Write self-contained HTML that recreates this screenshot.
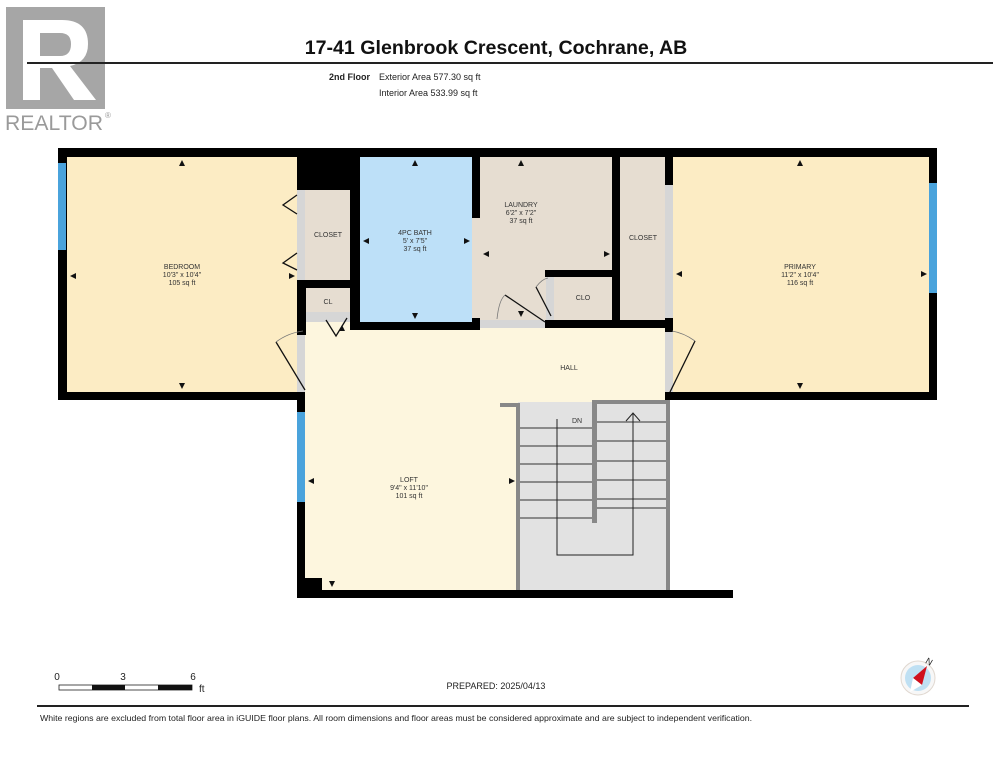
<!DOCTYPE html>
<html><head><meta charset="utf-8"><style>
html,body{margin:0;padding:0;background:#fff;width:993px;height:768px;overflow:hidden}
svg{display:block}
text{font-family:"Liberation Sans",Arial,sans-serif}
</style></head><body>
<svg width="993" height="768" viewBox="0 0 993 768" xmlns="http://www.w3.org/2000/svg">
<!-- Realtor logo -->
<rect x="6" y="7" width="99" height="102" fill="#a6a6a6"/>
<path d="M23 20 H62 Q88 20 88 44 Q88 62 70 66 L96 100 H74 L52 68 H40 V100 H23 Z M40 33 V56 H60 Q71 56 71 44 Q71 33 60 33 Z" fill="#fff"/>
<text x="5" y="130" font-size="21" fill="#9a9a9a" textLength="98" lengthAdjust="spacingAndGlyphs">REALTOR</text>
<text x="105" y="118" font-size="8" fill="#9a9a9a">®</text>
<!-- header -->
<text x="496" y="54" font-size="19.6" font-weight="bold" text-anchor="middle" fill="#111">17-41 Glenbrook Crescent, Cochrane, AB</text>
<rect x="27" y="62" width="966" height="2" fill="#222"/>
<text x="370" y="80" font-size="9" font-weight="bold" text-anchor="end" fill="#222">2nd Floor</text>
<text x="379" y="80" font-size="9" fill="#222">Exterior Area 577.30 sq ft</text>
<text x="379" y="96" font-size="9" fill="#222">Interior Area 533.99 sq ft</text>

<!-- floors -->
<rect x="65" y="155" width="235" height="240" fill="#fcecc4"/>
<rect x="303" y="188" width="50" height="130" fill="#e6ddd1"/>
<rect x="358" y="155" width="116" height="170" fill="#bde0f8"/>
<rect x="472" y="155" width="144" height="170" fill="#e6ddd1"/>
<rect x="616" y="155" width="52" height="170" fill="#e6ddd1"/>
<rect x="670" y="155" width="262" height="240" fill="#fcecc4"/>
<rect x="303" y="322" width="365" height="272" fill="#fdf6de"/>
<rect x="518" y="402" width="150" height="192" fill="#e2e2e2"/>
<!-- door strips -->
<rect x="297" y="190" width="8" height="90" fill="#d6d6d6"/>
<rect x="306" y="312" width="44" height="10" fill="#d6d6d6"/>
<rect x="297" y="335" width="8" height="57" fill="#d6d6d6"/>
<rect x="480" y="320" width="65" height="8" fill="#d6d6d6"/>
<rect x="546" y="277" width="8" height="43" fill="#d6d6d6"/>
<rect x="665" y="185" width="8" height="135" fill="#d6d6d6"/>
<rect x="665" y="330" width="8" height="62" fill="#d6d6d6"/>

<!-- walls -->
<g fill="#000">
<rect x="58" y="148" width="879" height="9"/>
<rect x="58" y="148" width="9" height="252"/>
<rect x="58" y="392" width="247" height="8"/>
<rect x="297" y="148" width="55" height="42"/>
<rect x="297" y="280" width="63" height="8"/>
<rect x="297" y="288" width="9" height="47"/>
<rect x="297" y="392" width="8" height="206"/>
<rect x="297" y="578" width="25" height="20"/>
<rect x="297" y="590" width="436" height="8"/>
<rect x="350" y="148" width="10" height="182"/>
<rect x="350" y="322" width="130" height="8"/>
<rect x="472" y="148" width="8" height="70"/>
<rect x="472" y="318" width="8" height="12"/>
<rect x="545" y="270" width="75" height="7"/>
<rect x="545" y="320" width="128" height="8"/>
<rect x="612" y="148" width="8" height="178"/>
<rect x="665" y="148" width="8" height="37"/>
<rect x="665" y="318" width="8" height="14"/>
<rect x="665" y="392" width="272" height="8"/>
<rect x="929" y="148" width="8" height="252"/>
</g>
<!-- windows -->
<rect x="58" y="163" width="8" height="87" fill="#4aa3dc"/>
<rect x="297" y="412" width="8" height="90" fill="#4aa3dc"/>
<rect x="929" y="183" width="8" height="110" fill="#4aa3dc"/>

<!-- doors -->
<g stroke="#111" stroke-width="1.3" fill="none">
<polyline points="297,195 283,205 297,214"/>
<polyline points="297,253 283,263 297,270"/>
<line x1="305" y1="390" x2="276" y2="342"/><path d="M276 342 Q288 333 303 331" stroke="#777" stroke-width="0.8"/>
<polyline points="326,320 336,336 347,318"/>
<line x1="545" y1="322" x2="505" y2="295"/><path d="M497 319 Q499 300 505 295" stroke="#777" stroke-width="0.8"/>
<line x1="551" y1="316" x2="536" y2="287"/><path d="M536 287 Q542 279 548 278" stroke="#777" stroke-width="0.8"/>
<line x1="670" y1="392" x2="695" y2="341"/><path d="M695 341 Q684 333 672 331" stroke="#777" stroke-width="0.8"/>
</g>

<!-- stairs -->
<g fill="#888">
<rect x="500" y="403" width="20" height="4"/>
<rect x="516" y="403" width="4" height="187"/>
<rect x="592" y="400" width="5" height="123"/>
<rect x="592" y="400" width="78" height="4"/>
<rect x="666" y="400" width="4" height="190"/>
</g>
<g stroke="#333" stroke-width="1">
<line x1="520" y1="428" x2="592" y2="428"/><line x1="520" y1="446" x2="592" y2="446"/>
<line x1="520" y1="464" x2="592" y2="464"/><line x1="520" y1="482" x2="592" y2="482"/>
<line x1="520" y1="500" x2="592" y2="500"/><line x1="520" y1="518" x2="592" y2="518"/>
<line x1="597" y1="422" x2="666" y2="422"/><line x1="597" y1="441" x2="666" y2="441"/>
<line x1="597" y1="461" x2="666" y2="461"/><line x1="597" y1="480" x2="666" y2="480"/>
<line x1="597" y1="499" x2="666" y2="499"/><line x1="597" y1="508" x2="666" y2="508"/>
</g>
<polyline points="557,419 557,555 633,555 633,413" fill="none" stroke="#222" stroke-width="1"/>
<polyline points="626,421 633,413 640,421" fill="none" stroke="#222" stroke-width="1"/>
<text x="577" y="423" font-size="7" text-anchor="middle" fill="#333">DN</text>

<!-- labels -->
<g font-size="7" fill="#333" text-anchor="middle">
<text x="182" y="269">BEDROOM</text><text x="182" y="277">10'3" x 10'4"</text><text x="182" y="285">105 sq ft</text>
<text x="328" y="237">CLOSET</text>
<text x="328" y="304">CL</text>
<text x="415" y="235">4PC BATH</text><text x="415" y="243">5' x 7'5"</text><text x="415" y="251">37 sq ft</text>
<text x="521" y="207">LAUNDRY</text><text x="521" y="215">6'2" x 7'2"</text><text x="521" y="223">37 sq ft</text>
<text x="583" y="300">CLO</text>
<text x="643" y="240">CLOSET</text>
<text x="800" y="269">PRIMARY</text><text x="800" y="277">11'2" x 10'4"</text><text x="800" y="285">116 sq ft</text>
<text x="569" y="370">HALL</text>
<text x="409" y="482">LOFT</text><text x="409" y="490">9'4" x 11'10"</text><text x="409" y="498">101 sq ft</text>
</g>
<!-- dimension arrowheads -->
<g fill="#111">
<path d="M182 160 l-3 6 h6z"/><path d="M182 389 l-3 -6 h6z"/>
<path d="M70 276 l6 -3 v6z"/><path d="M295 276 l-6 -3 v6z"/>
<path d="M415 160 l-3 6 h6z"/><path d="M415 319 l-3 -6 h6z"/>
<path d="M363 241 l6 -3 v6z"/><path d="M470 241 l-6 -3 v6z"/>
<path d="M521 160 l-3 6 h6z"/><path d="M521 317 l-3 -6 h6z"/>
<path d="M483 254 l6 -3 v6z"/><path d="M610 254 l-6 -3 v6z"/>
<path d="M800 160 l-3 6 h6z"/><path d="M800 389 l-3 -6 h6z"/>
<path d="M676 274 l6 -3 v6z"/><path d="M927 274 l-6 -3 v6z"/>
<path d="M308 481 l6 -3 v6z"/><path d="M515 481 l-6 -3 v6z"/>
<path d="M332 587 l-3 -6 h6z"/><path d="M342 325 l-3 6 h6z"/>
</g>

<!-- scale -->
<g font-size="10" fill="#222">
<text x="57" y="680" text-anchor="middle">0</text><text x="123" y="680" text-anchor="middle">3</text><text x="193" y="680" text-anchor="middle">6</text>
<text x="199" y="692">ft</text>
</g>
<rect x="59" y="685" width="133" height="5" fill="#fff" stroke="#222" stroke-width="0.8"/>
<rect x="92" y="685" width="33" height="5" fill="#111"/><rect x="158" y="685" width="34" height="5" fill="#111"/>
<text x="496" y="689" font-size="9" text-anchor="middle" fill="#222">PREPARED: 2025/04/13</text>
<!-- compass -->
<circle cx="918" cy="678" r="17" fill="#f7f7f7" stroke="#e0d8d0" stroke-width="1"/>
<circle cx="918" cy="678" r="13" fill="#bfe0f3"/>
<path d="M927 666 L913 678 L922 685 Z" fill="#d0101c"/>
<path d="M913 678 L922 685 L910 692 Z" fill="#fff"/>
<text x="926" y="664" font-size="9" fill="#222" transform="rotate(30 928 661)">N</text>
<!-- footer -->
<rect x="37" y="705" width="932" height="2" fill="#222"/>
<text x="40" y="721" font-size="8.2" fill="#222" textLength="712" lengthAdjust="spacingAndGlyphs">White regions are excluded from total floor area in iGUIDE floor plans. All room dimensions and floor areas must be considered approximate and are subject to independent verification.</text>
</svg>
</body></html>
